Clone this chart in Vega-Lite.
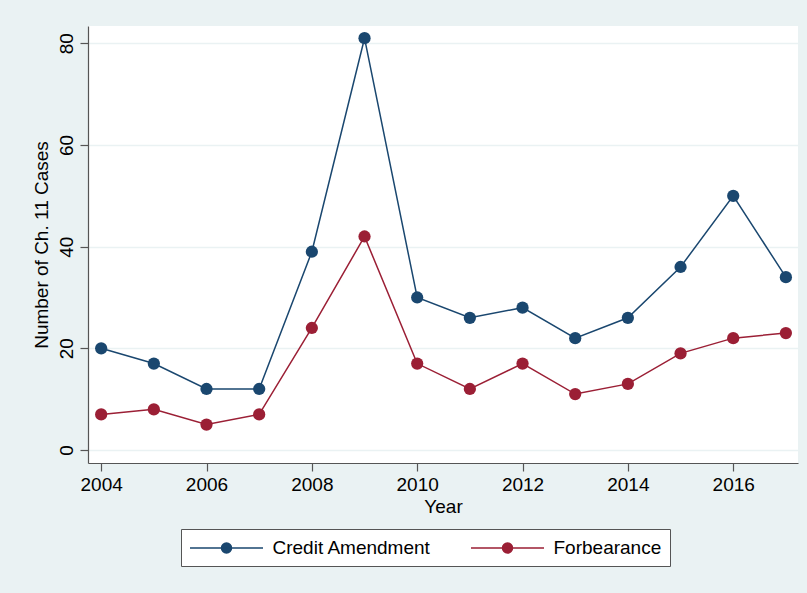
{
  "$schema": "https://vega.github.io/schema/vega-lite/v6.json",
  "autosize": {"type": "none"},
  "width": 710,
  "height": 437,
  "padding": {"left": 88, "top": 26, "right": 9, "bottom": 130},
  "background": "#EAF2F3",
  "config": {
    "view": {"fill": "white", "stroke": null},
    "font": "Liberation Sans",
    "axis": {
      "labelFont": "Liberation Sans",
      "titleFont": "Liberation Sans",
      "labelFontSize": 19,
      "titleFontSize": 19,
      "titleFontWeight": "normal",
      "labelColor": "black",
      "titleColor": "black",
      "domainColor": "#555555",
      "domainWidth": 1.2,
      "tickColor": "#555555",
      "tickWidth": 1.2,
      "tickSize": 8
    }
  },
  "data": {
    "values": [
      {"year": 2004, "series": "Credit Amendment", "cases": 20},
      {"year": 2005, "series": "Credit Amendment", "cases": 17},
      {"year": 2006, "series": "Credit Amendment", "cases": 12},
      {"year": 2007, "series": "Credit Amendment", "cases": 12},
      {"year": 2008, "series": "Credit Amendment", "cases": 39},
      {"year": 2009, "series": "Credit Amendment", "cases": 81},
      {"year": 2010, "series": "Credit Amendment", "cases": 30},
      {"year": 2011, "series": "Credit Amendment", "cases": 26},
      {"year": 2012, "series": "Credit Amendment", "cases": 28},
      {"year": 2013, "series": "Credit Amendment", "cases": 22},
      {"year": 2014, "series": "Credit Amendment", "cases": 26},
      {"year": 2015, "series": "Credit Amendment", "cases": 36},
      {"year": 2016, "series": "Credit Amendment", "cases": 50},
      {"year": 2017, "series": "Credit Amendment", "cases": 34},
      {"year": 2004, "series": "Forbearance", "cases": 7},
      {"year": 2005, "series": "Forbearance", "cases": 8},
      {"year": 2006, "series": "Forbearance", "cases": 5},
      {"year": 2007, "series": "Forbearance", "cases": 7},
      {"year": 2008, "series": "Forbearance", "cases": 24},
      {"year": 2009, "series": "Forbearance", "cases": 42},
      {"year": 2010, "series": "Forbearance", "cases": 17},
      {"year": 2011, "series": "Forbearance", "cases": 12},
      {"year": 2012, "series": "Forbearance", "cases": 17},
      {"year": 2013, "series": "Forbearance", "cases": 11},
      {"year": 2014, "series": "Forbearance", "cases": 13},
      {"year": 2015, "series": "Forbearance", "cases": 19},
      {"year": 2016, "series": "Forbearance", "cases": 22},
      {"year": 2017, "series": "Forbearance", "cases": 23}
    ]
  },
  "encoding": {
    "x": {
      "field": "year",
      "type": "quantitative",
      "scale": {"domain": [2003.75, 2017.23], "nice": false, "zero": false},
      "axis": {
        "title": "Year",
        "values": [2004, 2006, 2008, 2010, 2012, 2014, 2016],
        "format": "d",
        "grid": false,
        "labelPadding": 4,
        "titlePadding": 3
      }
    },
    "y": {
      "field": "cases",
      "type": "quantitative",
      "scale": {"domain": [-2.56, 83.4], "nice": false, "zero": false},
      "axis": {
        "title": "Number of Ch. 11 Cases",
        "values": [0, 20, 40, 60, 80],
        "grid": true,
        "gridColor": "#EAF2F3",
        "gridWidth": 1.5,
        "labelAngle": -90,
        "labelAlign": "center",
        "labelBaseline": "bottom",
        "labelPadding": 4,
        "titlePadding": 6
      }
    },
    "color": {
      "field": "series",
      "type": "nominal",
      "scale": {"domain": ["Credit Amendment", "Forbearance"], "range": ["#1A476F", "#9B1F35"]},
      "legend": {
        "title": null,
        "orient": "none",
        "direction": "horizontal",
        "columns": 2,
        "legendX": 93,
        "legendY": 503,
        "fillColor": "white",
        "strokeColor": "#555555",
        "padding": 8,
        "labelFont": "Liberation Sans",
        "labelFontSize": 19,
        "labelColor": "black",
        "symbolType": "M-3.65,0H3.65M0.5,0A0.5,0.5,0,1,1,-0.5,0A0.5,0.5,0,1,1,0.5,0Z",
        "symbolSize": 400,
        "symbolStrokeWidth": 1.5,
        "symbolOffset": 26.5,
        "labelOffset": 35,
        "columnPadding": 37,
        "encode": {
          "symbols": {"update": {"fill": {"scale": "color", "field": "value"}, "stroke": {"scale": "color", "field": "value"}}}
        }
      }
    }
  },
  "layer": [
    {"mark": {"type": "line", "strokeWidth": 1.5}},
    {"mark": {"type": "point", "filled": true, "size": 150, "opacity": 1}}
  ]
}
